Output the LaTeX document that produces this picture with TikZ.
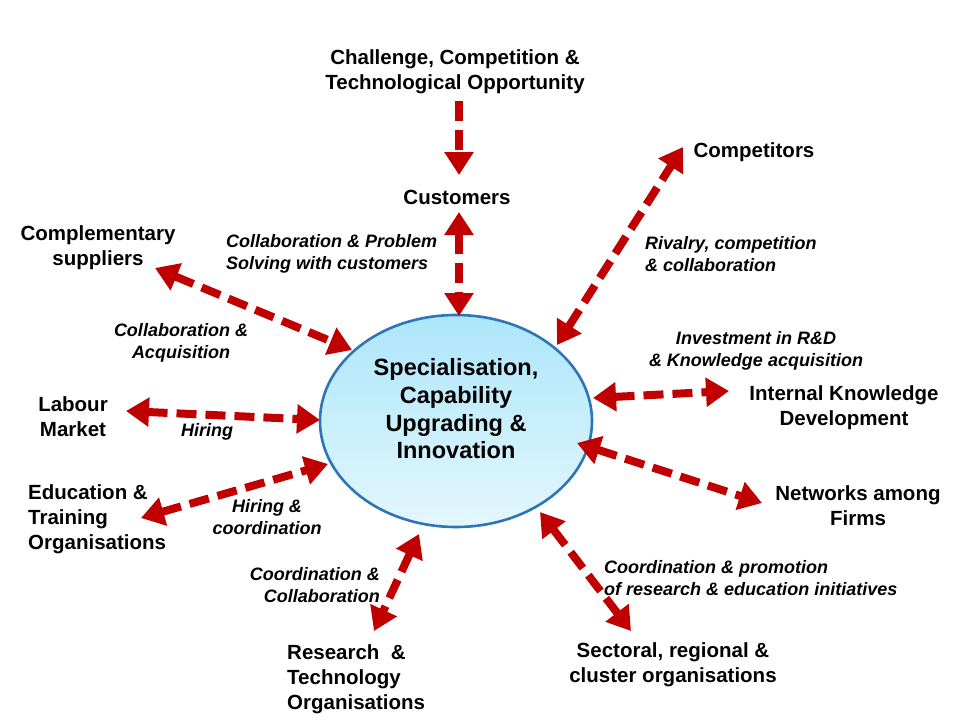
\documentclass[tikz,border=0pt]{standalone}
\usepackage{fontspec}
\setmainfont{Liberation Sans}
\usetikzlibrary{arrows.meta,shapes.geometric}
\definecolor{arrred}{RGB}{192,0,0}
\definecolor{ellblue}{RGB}{46,117,182}
\definecolor{elltop}{RGB}{172,230,250}
\definecolor{ellbot}{RGB}{228,247,253}
\tikzset{
  lab/.style={font=\fontsize{20.5}{25}\selectfont\bfseries, inner sep=0pt, align=center},
  rel/.style={font=\fontsize{18}{22.5}\selectfont\bfseries\itshape, inner sep=0pt},
  link/.style={draw=arrred, line width=8pt, dash pattern=on 20pt off 9pt,
    {Triangle[width=28pt,length=23pt]}-{Triangle[width=28pt,length=23pt]}},
  onelink/.style={draw=arrred, line width=8pt, dash pattern=on 20pt off 9pt,
    -{Triangle[width=28pt,length=23pt]}},
}
\begin{document}
\begin{tikzpicture}[x=1pt,y=-1pt]
\useasboundingbox (0,0) rectangle (960,720);
% central ellipse
\node[ellipse, draw=ellblue, line width=2.6pt, top color=elltop, bottom color=ellbot,
  minimum width=272pt, minimum height=212pt, inner sep=0pt] (core) at (456,421) {};
\node[font=\fontsize{23.5}{27.7}\selectfont\bfseries, align=center, inner sep=0pt] (coretext) at (456,409)
  {Specialisation,\\Capability\\Upgrading \&\\Innovation};

% outer nodes
\node[lab] (chal) at (455,72) {Challenge, Competition \&\\Technological Opportunity};
\node[lab] (cust) at (457,197) {Customers};
\node[lab] (comp) at (754,152) {Competitors};
\node[lab] (supp) at (98,248) {Complementary\\suppliers};
\node[lab] (ikd) at (844,408) {Internal Knowledge\\Development};
\node[lab] (lab) at (73,417) {Labour\\Market};
\node[lab, anchor=west, align=left] (edu) at (28,519) {Education \&\\Training\\Organisations};
\node[lab] (net) at (858,506) {Networks among\\Firms};
\node[lab, anchor=west, align=left] (res) at (287,679) {Research~~\&\\Technology\\Organisations};
\node[lab] (sec) at (673,665) {Sectoral, regional \&\\cluster organisations};

% relation labels
\node[rel, anchor=west, align=left] (lcust) at (226,254) {Collaboration \& Problem\\Solving with customers};
\node[rel, anchor=west, align=left] (lriv) at (645,254) {Rivalry, competition\\\& collaboration};
\node[rel, align=center] (lacq) at (181,343) {Collaboration \&\\Acquisition};
\node[rel, align=center] (linv) at (756,351) {Investment in R\&D\\\& Knowledge acquisition};
\node[rel] (lhir) at (207,432) {Hiring};
\node[rel, align=center] (lhc) at (267,517) {Hiring \&\\coordination};
\node[rel, anchor=east, align=right] (lcc) at (380,585) {Coordination \&\\Collaboration};
\node[rel, anchor=west, align=left] (lprom) at (604,578) {Coordination \& promotion\\of research \& education initiatives};

% connector end points
\coordinate (c1a) at (459,101);  \coordinate (c1b) at (459,175);
\coordinate (c2a) at (459,212);  \coordinate (c2b) at (459,316);
\coordinate (c3a) at (557,345);  \coordinate (c3b) at (683,147);
\coordinate (c4a) at (155,268);  \coordinate (c4b) at (352,350);
\coordinate (c5a) at (126,411);  \coordinate (c5b) at (320,420);
\coordinate (c6a) at (141,518);  \coordinate (c6b) at (328,464);
\coordinate (c7a) at (419,534);  \coordinate (c7b) at (374,631);
\coordinate (c8a) at (540,512);  \coordinate (c8b) at (631,631);
\coordinate (c9a) at (577,443);  \coordinate (c9b) at (762,503);
\coordinate (c10a) at (593,398); \coordinate (c10b) at (729,391);

% connectors
\draw[onelink] (c1a) -- (c1b);
\draw[link] (c2a) -- (c2b);
\draw[link] (c3a) -- (c3b);
\draw[link] (c4a) -- (c4b);
\draw[link] (c5a) -- (c5b);
\draw[link] (c6a) -- (c6b);
\draw[link] (c7a) -- (c7b);
\draw[link] (c8a) -- (c8b);
\draw[link] (c9a) -- (c9b);
\draw[link] (c10a) -- (c10b);
\end{tikzpicture}
\end{document}
